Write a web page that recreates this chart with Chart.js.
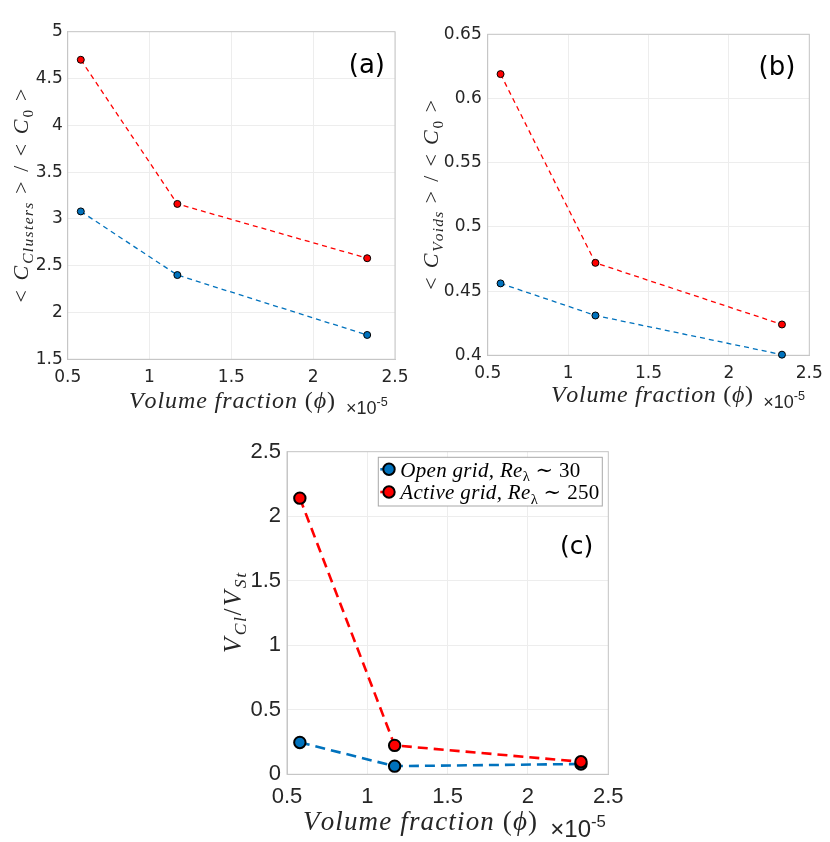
<!DOCTYPE html>
<html>
<head>
<meta charset="utf-8">
<script src="https://cdn.jsdelivr.net/npm/chart.js@4.4.1/dist/chart.umd.min.js"></script>
<style>
  body { margin: 0; background: #fff; }
  .panel { position: absolute; }
</style>
</head>
<body>
<div class="panel" style="left:0;top:0"><canvas id="chartA" width="415" height="420"></canvas></div>
<div class="panel" style="left:415px;top:0"><canvas id="chartB" width="415" height="420"></canvas></div>
<div class="panel" style="left:200px;top:420px"><canvas id="chartC" width="440" height="422"></canvas></div>
<script>
// volume fraction phi, in units of 1e-5
var volumeFraction = [0.58, 1.17, 2.33]
var seriesNames = ['Open grid, Reλ ∼ 30', 'Active grid, Reλ ∼ 250']

// (a) <C_Clusters>/<C_0>
var clustersOpen = [3.08, 2.40, 1.76]
var clustersActive = [4.70, 3.16, 2.58]
// (b) <C_Voids>/<C_0>
var voidsOpen = [0.456, 0.431, 0.4005]
var voidsActive = [0.619, 0.472, 0.424]
// (c) V_Cl/V_St
var velocityOpen = [0.247, 0.063, 0.08]
var velocityActive = [2.14, 0.224, 0.097]

var xTicks = [0.5, 1, 1.5, 2, 2.5]
var yTicksA = [1.5, 2, 2.5, 3, 3.5, 4, 4.5, 5]
var yTicksB = [0.4, 0.45, 0.5, 0.55, 0.6, 0.65]
var yTicksC = [0, 0.5, 1, 1.5, 2, 2.5]

var BLUE = '#0072BD'
var RED = '#FF0000'
var GRID = '#ededed'
var BOX = '#c6c6c6'
var TICK = '#262626'
var SERIF = '"Liberation Serif", "DejaVu Serif", serif'
var SANS = '"Liberation Sans", Arial, sans-serif'

// little rich text helper for the LaTeX-like labels (sub/superscripts)
function segScale(seg) { return (seg.sub || seg.sup) ? 0.7 : 1 }
function segFont(seg, size) {
  return (seg.it ? 'italic ' : '') + size * segScale(seg) + 'px ' + (seg.sans ? SANS : SERIF)
}

function drawRich(ctx, segs, x, y, opt) {
  var size = opt.size, w = 0, ratios = 0, extra = 0, last = 1
  segs.forEach(function(seg) {
    ctx.font = segFont(seg, size)
    for (var ch of seg.t) { w += ctx.measureText(ch).width; ratios += segScale(seg); last = segScale(seg) }
  })
  if (opt.width) { extra = (opt.width - w) / (ratios - last); w = opt.width }
  ctx.save()
  ctx.translate(x, y)
  if (opt.rotate) ctx.rotate(opt.rotate)
  ctx.fillStyle = opt.color || TICK
  ctx.textAlign = 'left'
  ctx.textBaseline = 'alphabetic'
  var cx = opt.align === 'left' ? 0 : -w / 2
  segs.forEach(function(seg) {
    ctx.font = segFont(seg, size)
    var dy = seg.sub ? size * 0.22 : seg.sup ? -size * 0.42 : 0
    for (var ch of seg.t) {
      ctx.fillText(ch, cx, dy + size * 0.35)
      cx += ctx.measureText(ch).width + extra * segScale(seg)
    }
  })
  ctx.restore()
}

function labelSegs(name) {
  var p = name.split('λ')
  return [{t: p[0], it: true}, {t: 'λ', sub: true}, {t: p[1]}]
}

var xTitleSegs = [{t: 'Volume fraction ', it: true}, {t: '('}, {t: 'ϕ', it: true}, {t: ')'}]
var expSegs = [{t: '×10', sans: true}, {t: '-5', sans: true, sup: true}]

var decor = {
  id: 'decor',
  beforeDatasetsDraw: function(chart) {
    var ctx = chart.ctx, a = chart.chartArea
    ctx.save()
    ctx.strokeStyle = BOX
    ctx.lineWidth = 1
    ctx.strokeRect(a.left, a.top, a.right - a.left, a.bottom - a.top)
    ctx.restore()
  },
  afterDraw: function(chart, args, o) {
    var ctx = chart.ctx, a = chart.chartArea
    drawRich(ctx, o.yTitle, a.left + o.yTitleDx, (a.top + a.bottom) / 2,
      {size: o.yTitleSize, width: o.yTitleWidth, rotate: -Math.PI / 2})
    drawRich(ctx, xTitleSegs, (a.left + a.right) / 2 + o.xTitleDx, a.bottom + o.xTitleDy,
      {size: o.xTitleSize, width: o.xTitleWidth})
    drawRich(ctx, expSegs, a.right + o.expDx, a.bottom + o.expDy, {size: o.expSize, align: 'left'})

    ctx.save()
    ctx.font = o.panelSize + 'px "DejaVu Sans", sans-serif'
    ctx.fillStyle = '#000'
    ctx.textAlign = 'right'
    ctx.textBaseline = 'middle'
    ctx.fillText(o.panel, a.right + o.panelDx, a.top + o.panelDy)
    ctx.restore()

    if (o.legend) drawLegend(chart, o.legend)
  }
}

function drawLegend(chart, L) {
  var ctx = chart.ctx, a = chart.chartArea
  var x1 = a.right + L.dx - L.w, y1 = a.top + L.dy
  ctx.save()
  ctx.fillStyle = '#fff'
  ctx.fillRect(x1, y1, L.w, L.h)
  ctx.strokeStyle = '#a8a8a8'
  ctx.lineWidth = 1
  ctx.strokeRect(x1, y1, L.w, L.h)
  chart.data.datasets.forEach(function(ds, i) {
    var cy = y1 + L.rowY[i]
    ctx.strokeStyle = ds.borderColor
    ctx.lineWidth = ds.borderWidth
    ctx.beginPath(); ctx.moveTo(x1 + 2, cy); ctx.lineTo(x1 + L.markX, cy); ctx.stroke()
    ctx.beginPath()
    ctx.arc(x1 + L.markX, cy, ds.pointRadius, 0, 2 * Math.PI)
    ctx.fillStyle = ds.pointBackgroundColor
    ctx.fill()
    ctx.lineWidth = ds.pointBorderWidth
    ctx.strokeStyle = ds.pointBorderColor
    ctx.stroke()
    drawRich(ctx, labelSegs(ds.label), x1 + L.textX, cy,
      {size: L.size, width: L.widths[i], align: 'left', color: '#000'})
  })
  ctx.restore()
}

function points(ys) {
  return volumeFraction.map(function(x, i) { return {x: x, y: ys[i]} })
}

function makeDatasets(openY, activeY, big) {
  var base = {
    borderWidth: big ? 2.6 : 1.3,
    borderDash: big ? [10, 6] : [5, 4],
    pointRadius: big ? 5.7 : 3.5,
    pointHoverRadius: big ? 5.7 : 3.5,
    pointBorderWidth: big ? 2 : 1,
    pointBorderColor: '#000',
    fill: false,
    tension: 0,
    clip: false
  }
  return [
    Object.assign({label: seriesNames[0], data: points(openY), borderColor: BLUE,
      pointBackgroundColor: BLUE, order: 1}, base),
    Object.assign({label: seriesNames[1], data: points(activeY), borderColor: RED,
      pointBackgroundColor: RED, order: 0}, base)
  ]
}

function makeOptions(c) {
  return {
    responsive: false,
    animation: false,
    events: [],
    layout: {padding: {top: c.top, right: c.right, left: 0, bottom: 0}},
    plugins: {legend: {display: false}, tooltip: {enabled: false}, decor: c.decor},
    scales: {
      x: {
        type: 'linear', min: xTicks[0], max: xTicks[xTicks.length - 1],
        afterBuildTicks: function(s) { s.ticks = xTicks.map(function(v) { return {value: v} }) },
        afterFit: function(s) { s.height = c.xHeight; s.paddingLeft = 0; s.paddingRight = 0 },
        grid: {color: GRID, drawTicks: false},
        border: {color: BOX},
        ticks: {font: c.tickFont, color: TICK, padding: c.xPad, maxRotation: 0, autoSkip: false,
          callback: function(v) { return String(v) }}
      },
      y: {
        type: 'linear', min: c.yTicks[0], max: c.yTicks[c.yTicks.length - 1],
        afterBuildTicks: function(s) { s.ticks = c.yTicks.map(function(v) { return {value: v} }) },
        afterFit: function(s) { s.width = c.yWidth; s.paddingTop = 0; s.paddingBottom = 0 },
        grid: {color: GRID, drawTicks: false},
        border: {color: BOX},
        ticks: {font: c.tickFont, color: TICK, padding: c.yPad, autoSkip: false,
          callback: function(v) { return String(v) }}
      }
    }
  }
}

var smallTicks = {family: '"DejaVu Sans", sans-serif', size: 17}
var bigTicks = {family: SANS, size: 22}

new Chart(document.getElementById('chartA'), {
  type: 'line',
  data: {datasets: makeDatasets(clustersOpen, clustersActive, false)},
  options: makeOptions({
    top: 31.7, right: 20, yWidth: 67.7, xHeight: 60.7, xPad: 8, yPad: 5,
    tickFont: smallTicks, yTicks: yTicksA,
    decor: {
      yTitle: [{t: '< '}, {t: 'C', it: true}, {t: 'Clusters', it: true, sub: true}, {t: ' > / < '},
        {t: 'C', it: true}, {t: '0', sub: true}, {t: ' >'}],
      yTitleDx: -47.7, yTitleSize: 22, yTitleWidth: 214,
      xTitleDx: 0.6, xTitleDy: 40, xTitleSize: 24, xTitleWidth: 206,
      expDx: -49, expDy: 48, expSize: 18,
      panel: '(a)', panelDx: -10, panelDy: 35, panelSize: 26
    }
  }),
  plugins: [decor]
})

new Chart(document.getElementById('chartB'), {
  type: 'line',
  data: {datasets: makeDatasets(voidsOpen, voidsActive, false)},
  options: makeOptions({
    top: 34.3, right: 20.7, yWidth: 72.7, xHeight: 64.7, xPad: 8, yPad: 6,
    tickFont: smallTicks, yTicks: yTicksB,
    decor: {
      yTitle: [{t: '< '}, {t: 'C', it: true}, {t: 'Voids', it: true, sub: true}, {t: ' > / < '},
        {t: 'C', it: true}, {t: '0', sub: true}, {t: ' >'}],
      yTitleDx: -57.7, yTitleSize: 22, yTitleWidth: 190,
      xTitleDx: 3.5, xTitleDy: 38, xTitleSize: 24, xTitleWidth: 202,
      expDx: -46, expDy: 46, expSize: 18,
      panel: '(b)', panelDx: -14, panelDy: 34, panelSize: 26
    }
  }),
  plugins: [decor]
})

new Chart(document.getElementById('chartC'), {
  type: 'line',
  data: {datasets: makeDatasets(velocityOpen, velocityActive, true)},
  options: makeOptions({
    top: 31.7, right: 31.7, yWidth: 87, xHeight: 67.7, xPad: 9, yPad: 6,
    tickFont: bigTicks, yTicks: yTicksC,
    decor: {
      yTitle: [{t: 'V', it: true}, {t: 'Cl', it: true, sub: true}, {t: '/'},
        {t: 'V', it: true}, {t: 'St', it: true, sub: true}],
      yTitleDx: -55, yTitleSize: 25, yTitleWidth: 80,
      xTitleDx: -27.6, xTitleDy: 46, xTitleSize: 27, xTitleWidth: 234,
      expDx: -58, expDy: 54, expSize: 24,
      panel: '(c)', panelDx: -15, panelDy: 96, panelSize: 25,
      legend: {dx: -6, dy: 5.6, w: 224, h: 48.7, rowY: [12, 34.7], markX: 10.7, textX: 22,
        size: 21, widths: [180, 199]}
    }
  }),
  plugins: [decor]
})
</script>
</body>
</html>
